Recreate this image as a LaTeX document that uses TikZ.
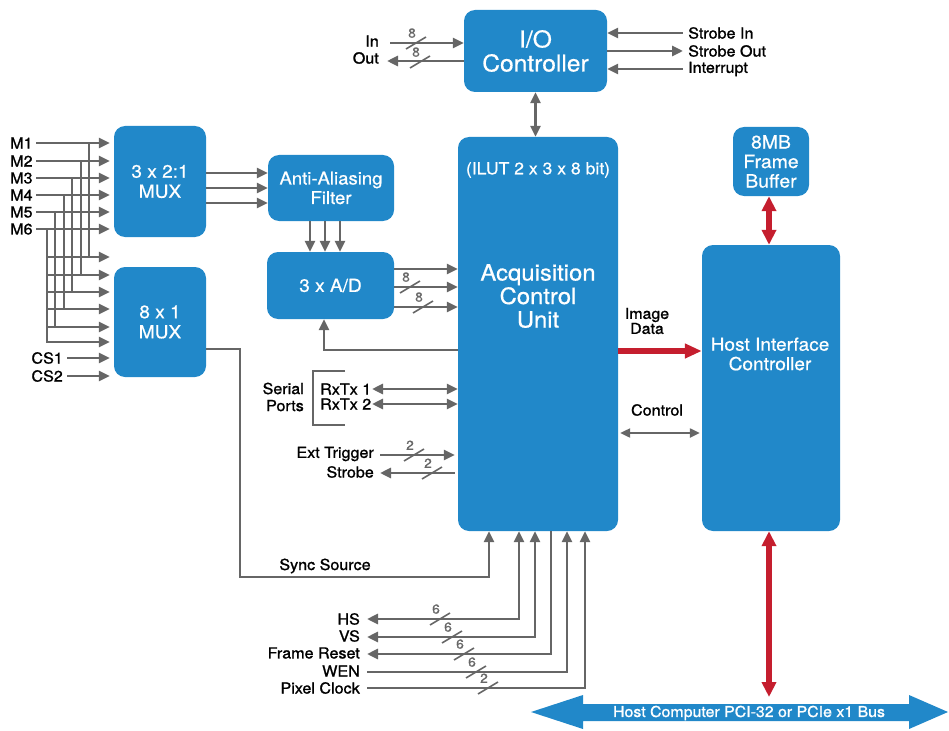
\documentclass[tikz,border=0pt]{standalone}
\usepackage{fontspec}
\setmainfont{TeX Gyre Heros}[FakeStretch=1.06,FakeBold=0.6]
\newfontfamily\lblfont{TeX Gyre Heros}[FakeStretch=1.06,FakeBold=1.2]
\usetikzlibrary{arrows.meta}
\definecolor{blkblue}{RGB}{33,136,201}
\definecolor{lgray}{RGB}{102,102,102}
\definecolor{dred}{RGB}{197,30,46}
\newcommand{\bmark}[4]{\draw[slash] (#2-10,#3+6) -- (#2+10,#3-6); \node[num, anchor=south] (#1) at (#2-4,#3-4) {#4};}
\begin{document}
\begin{tikzpicture}[x=1pt,y=-1pt,
  blk/.style={fill=blkblue, rounded corners=11pt, text=white, align=center, inner sep=0pt, font=\fontsize{18}{20}\selectfont},
  lbl/.style={text=black, inner sep=2pt, font=\lblfont\fontsize{15.2}{16}\selectfont},
  num/.style={text=lgray, inner sep=1pt, font=\fontsize{13}{14}\selectfont},
  ln/.style={draw=lgray, line width=2.8pt},
  arr/.style={ln, -{Triangle[length=11pt,width=10pt]}},
  rarr/.style={ln, {Triangle[length=11pt,width=10pt]}-},
  darr/.style={ln, {Triangle[length=11pt,width=10pt]}-{Triangle[length=11pt,width=10pt]}},
  slash/.style={draw=lgray, line width=1.6pt},
  red/.style={draw=dred, line width=6.5pt},
]
\useasboundingbox (0,0) rectangle (949,730);

% ---------- blocks
\node[blk, minimum width=143pt, minimum height=82pt, font=\fontsize{23.2}{24}\selectfont] (io) at (535.5,51) {I/O\\Controller};
\node[blk, minimum width=92pt, minimum height=111pt] (mux1) at (160,181.5) {3 x 2:1\\MUX};
\node[blk, minimum width=92pt, minimum height=110pt] (mux2) at (160,322) {8 x 1\\MUX};
\node[blk, minimum width=126pt, minimum height=66pt, font=\fontsize{17.5}{19.5}\selectfont] (aaf) at (331,188) {Anti-Aliasing\\Filter};
\node[blk, minimum width=127pt, minimum height=67pt] (ad) at (330.5,285.5) {3 x A/D};
\node[blk, minimum width=160pt, minimum height=394pt] (acu) at (538,334) {};
\node[text=white, font=\fontsize{16.6}{18}\selectfont, inner sep=0pt] (ilut) at (538,170) {(ILUT 2 x 3 x 8 bit)};
\node[text=white, align=center, font=\fontsize{22.5}{23.5}\selectfont, inner sep=0pt] (acut) at (538,296) {Acquisition\\Control\\Unit};
\node[blk, minimum width=76pt, minimum height=69pt, font=\fontsize{18.3}{19.5}\selectfont] (fb) at (771,161.5) {8MB\\Frame\\Buffer};
\node[blk, minimum width=138pt, minimum height=286pt] (hic) at (771,388) {};
\node[text=white, align=center, font=\fontsize{18}{19.5}\selectfont, inner sep=0pt] (hict) at (770,354) {Host Interface\\Controller};

% ---------- bus
\fill[blkblue] (531,712) -- (583,695) -- (583,704) -- (909,704) -- (909,695) -- (948,712) -- (909,729) -- (909,721) -- (583,721) -- (583,729) -- cycle;
\node[text=white, font=\lblfont\fontsize{15}{16}\selectfont, inner sep=0pt] (bus) at (749,713) {Host Computer PCI-32 or PCIe x1 Bus};

% ---------- M inputs
\foreach \i/\y in {1/143,2/161,3/178,4/195,5/212,6/229}{
  \node[lbl, anchor=west] (m\i) at (8,\y) {M\i};
  \draw[arr, shorten >=4pt] (36,\y) -- (m\i -| mux1.west);
}
\foreach \x/\ya/\yb in {89/143/257, 81/161/275, 72/178/292, 64/195/309, 55/212/327}{
  \draw[ln] (\x,\ya) -- (\x,\yb);
  \draw[arr, shorten >=4pt] (47,\yb) -- (mux2.west |- 0,\yb);
}
\draw[arr, shorten >=4pt] (47,229) -- (47,342) -- (mux2.west |- 0,342);
\node[lbl, anchor=east] (cs1) at (65,358) {CS1};
\node[lbl, anchor=east] (cs2) at (65,376) {CS2};
\draw[arr, shorten >=4pt] ([xshift=2pt]cs1.east) -- (cs1 -| mux2.west);
\draw[arr, shorten >=4pt] ([xshift=2pt]cs2.east) -- (cs2 -| mux2.west);

% ---------- mux1 -> aaf -> ad -> acu
\foreach \y in {173,188,203}{ \draw[arr] (mux1.east |- 0,\y) -- (aaf.west |- 0,\y); }
\foreach \x in {310,325,340}{ \draw[arr] (aaf.south -| \x,0) -- (ad.north -| \x,0); }
\foreach \y in {269,287,307}{ \draw[arr] (ad.east |- 0,\y) -- (acu.west |- 0,\y); }
\bmark{n1}{410}{287}{8}
\bmark{n2}{423}{307}{8}
\draw[arr] (acu.west |- 0,350) -- (324,350) -- (ad.south -| 324,0);

% ---------- I/O controller
\node[lbl, anchor=east] (in) at (381,41) {In};
\node[lbl, anchor=east] (out) at (381,58) {Out};
\draw[arr] (390,43) -- (io.west |- 0,43);
\draw[rarr] (387,61) -- (io.west |- 0,61);
\bmark{n3}{416}{43}{8}
\bmark{n4}{420}{62}{8}
\node[lbl, anchor=west] (si) at (686,33) {Strobe In};
\node[lbl, anchor=west] (so) at (686,51) {Strobe Out};
\node[lbl, anchor=west] (irq) at (686,69) {Interrupt};
\draw[rarr] (io.east |- si) -- ([xshift=-3pt]si.west);
\draw[arr] (io.east |- so) -- ([xshift=-3pt]so.west);
\draw[rarr] (io.east |- irq) -- ([xshift=-3pt]irq.west);
\draw[darr] (io.south) -- (io.south |- acu.north);

% ---------- serial ports
\draw[ln, line cap=butt] (345,371) -- (313,371) -- (313,425) -- (345,425);
\node[lbl, anchor=east, align=right, font=\lblfont\fontsize{15.2}{17}\selectfont] (sp) at (306,397) {Serial\\Ports};
\node[lbl, anchor=west] (rx1) at (318,389) {RxTx 1};
\node[lbl, anchor=west] (rx2) at (318,404) {RxTx 2};
\draw[darr] (372,389) -- (rx1 -| acu.west);
\draw[darr] (372,404) -- (rx2 -| acu.west);

\node[lbl, anchor=east] (ext) at (376,454) {Ext Trigger};
\node[lbl, anchor=east] (strb) at (376,472) {Strobe};
\draw[arr, shorten >=3pt] (380,455) -- (acu.west |- 0,455);
\draw[rarr, shorten >=3pt] (380,473) -- (acu.west |- 0,473);
\bmark{n5}{414}{455}{2}
\bmark{n6}{432}{473}{2}

% ---------- sync source
\draw[arr] (mux2.east |- 0,349) -- (240,349) -- (240,577) -- (489,577) -- (acu.south -| 489,0);
\node[lbl] (sync) at (325,566) {Sync Source};

% ---------- bottom signals
\node[lbl, anchor=east] (hs) at (362,619) {HS};
\node[lbl, anchor=east] (vs) at (362,636) {VS};
\node[lbl, anchor=east] (fr) at (362,653) {Frame Reset};
\node[lbl, anchor=east] (wen) at (362,671) {WEN};
\node[lbl, anchor=east] (pc) at (362,688) {Pixel Clock};
\draw[darr] (367,619) -- (519,619) -- (acu.south -| 519,0);
\draw[darr] (367,637) -- (535,637) -- (acu.south -| 535,0);
\draw[rarr] (367,654) -- (551,654) -- (acu.south -| 551,0);
\draw[arr] (367,672) -- (567,672) -- (acu.south -| 567,0);
\draw[arr] (367,688) -- (585,688) -- (acu.south -| 585,0);
\bmark{n7}{440}{619}{6}
\bmark{n8}{452}{637}{6}
\bmark{n9}{464}{654}{6}
\bmark{n10}{476}{672}{6}
\bmark{n11}{488}{688}{2}

% ---------- acu <-> hic
\draw[red, -{Triangle[length=17pt,width=14pt]}] (acu.east |- 0,351) -- (hic.west |- 0,351);
\node[lbl, align=center, font=\lblfont\fontsize{15}{15}\selectfont] (imgd) at (647,321) {Image\\Data};
\draw[ln, line width=2.2pt, {Triangle[length=10pt,width=9pt]}-{Triangle[length=10pt,width=9pt]}, shorten <=2pt, shorten >=2pt] (acu.east |- 0,433) -- (hic.west |- 0,433);
\node[lbl] (ctrl) at (657,410) {Control};

% ---------- red vertical links
\draw[red, {Triangle[length=15pt,width=14pt]}-{Triangle[length=15pt,width=14pt]}] (fb.south -| 769,0) -- (hic.north -| 769,0);
\draw[red, {Triangle[length=15pt,width=14pt]}-{Triangle[length=15pt,width=14pt]}] (hic.south -| 769,0) -- (769,697);
\end{tikzpicture}
\end{document}
